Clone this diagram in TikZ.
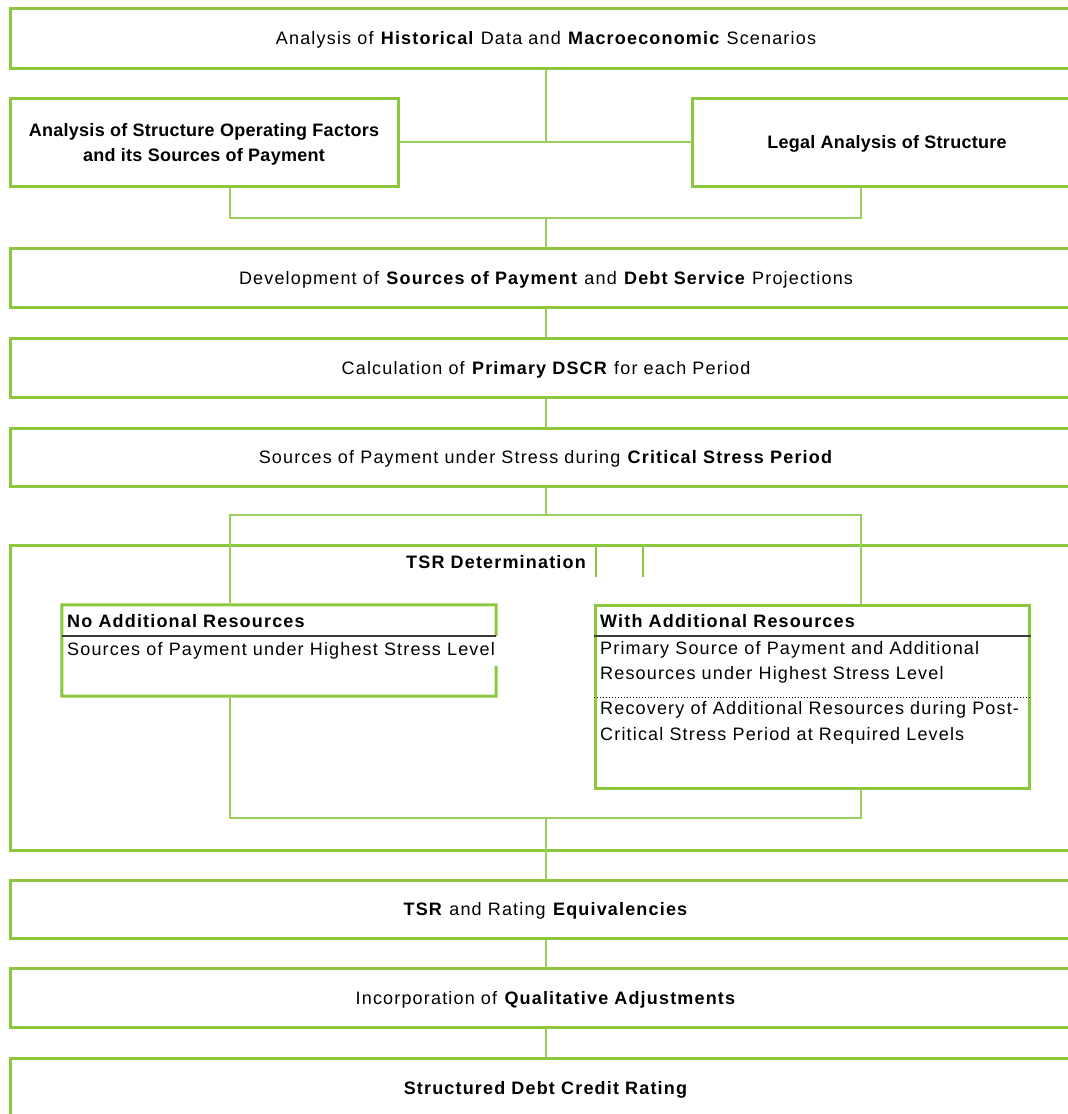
\documentclass[tikz,border=0pt]{standalone}
\usepackage{fontspec}
\setmainfont{Liberation Sans}[LetterSpace=6.5]
\newfontfamily\sidefont{Liberation Sans}[LetterSpace=1.5]
\definecolor{gbox}{RGB}{141,198,63}
\definecolor{gline}{RGB}{155,205,95}
\definecolor{hdr}{RGB}{60,60,60}
\begin{document}
\begin{tikzpicture}[x=1pt,y=-1pt,
  box/.style={draw=gbox,line width=3pt,minimum width=1072pt,minimum height=59pt,inner sep=0pt,text depth=0pt,font=\fontsize{18}{21}\selectfont,align=center},
  sidebox/.style={draw=gbox,line width=3pt,minimum height=88pt,inner sep=0pt,text depth=0pt,font=\sidefont\fontsize{18}{25}\selectfont\bfseries,align=center},
  conn/.style={draw=gline,line width=1.5pt},
  inner/.style={inner sep=0pt,anchor=west,font=\fontsize{18}{21}\selectfont},
  innerh/.style={inner sep=0pt,anchor=west,font=\fontsize{18}{21}\selectfont\bfseries}]
\useasboundingbox (0,0) rectangle (1068,1114);
\clip (0,0) rectangle (1068,1114);
% main boxes
\node[box,minimum height=60pt] (b1) at (546,38) {Analysis of \textbf{Historical} Data and \textbf{Macroeconomic} Scenarios};
\node[sidebox,minimum width=388pt] (b2) at (204,142) {Analysis of Structure Operating Factors\\and its Sources of Payment};
\node[sidebox,minimum width=390pt] (b3) at (887,142) {Legal Analysis of Structure};
\node[box] (b4) at (546,277.5) {Development of \textbf{Sources of Payment} and \textbf{Debt Service} Projections};
\node[box] (b5) at (546,367.5) {Calculation of \textbf{Primary DSCR} for each Period};
\node[box,minimum height=58pt] (b6) at (546,457) {Sources of Payment under Stress during \textbf{Critical Stress Period}};
\node[box,minimum height=305pt] (tsr) at (546,697.5) {};
\node[inner sep=0pt,font=\fontsize{18}{21}\selectfont\bfseries] (tsrt) at (496,562) {TSR Determination};
\node[box,minimum height=58pt] (b7) at (546,909) {\textbf{TSR} and Rating \textbf{Equivalencies}};
\node[box] (b8) at (546,997.5) {Incorporation of \textbf{Qualitative Adjustments}};
\node[box,minimum height=60pt] (b9) at (546,1088) {\textbf{Structured Debt Credit Rating}};
% artifact ticks
\coordinate (t1) at (596,577);
\coordinate (t2) at (643,577);
\draw[draw=gbox,line width=2.5pt] (tsr.north -| t1) -- (t1);
\draw[draw=gbox,line width=2.5pt] (tsr.north -| t2) -- (t2);
% No additional resources box
\node[minimum width=434pt,minimum height=91pt,inner sep=0pt] (na) at (279,650.5) {};
\coordinate (nag1) at (496,636);
\coordinate (nag2) at (496,666);
\draw[draw=gbox,line width=3pt] (nag1) -- (na.north east) -- (na.north west) -- (na.south west) -- (na.south east) -- (nag2);
\draw[draw=hdr,line width=1.5pt] (na.west |- nag1) -- (nag1);
\node[innerh] (nah) at (67,621) {No Additional Resources};
\node[inner] (nab) at (67,651) {Sources of Payment under Highest Stress Level};
% With additional resources box
\node[draw=gbox,line width=3pt,minimum width=434pt,minimum height=183pt,inner sep=0pt] (wa) at (812,696.5) {};
\coordinate (wah) at (812,636);
\coordinate (wad) at (812,697);
\draw[draw=hdr,line width=1.5pt] (wa.west |- wah) -- (wa.east |- wah);
\draw[line width=1pt,dotted] (wa.west |- wad) -- (wa.east |- wad);
\node[innerh] (wat) at (600,621) {With Additional Resources};
\node[inner] (wa1) at (600,650) {Primary Source of Payment and Additional};
\node[inner] (wa2) at (600,675) {Resources under Highest Stress Level};
\node[inner] (wa3) at (600,710) {Recovery of Additional Resources during Post-};
\node[inner] (wa4) at (600,736) {Critical Stress Period at Required Levels};
% connectors
\coordinate (j1) at (546,142);
\draw[conn] (b1.south) -- (j1);
\draw[conn] (b2.east) -- (b3.west);
\coordinate (k1) at (230,218);
\coordinate (k2) at (861,218);
\draw[conn] (b2.south -| k1) -- (k1) -- (k2) -- (b3.south -| k2);
\draw[conn] (b4.north |- k1) -- (b4.north);
\draw[conn] (b4.south) -- (b5.north);
\draw[conn] (b5.south) -- (b6.north);
\coordinate (m0) at (546,515);
\coordinate (m1) at (230,515);
\coordinate (m2) at (861,515);
\draw[conn] (b6.south) -- (m0);
\draw[conn] (na.north -| m1) -- (m1) -- (m2) -- (wa.north -| m2);
\coordinate (n1) at (230,818);
\coordinate (n2) at (861,818);
\draw[conn] (na.south -| n1) -- (n1) -- (n2) -- (wa.south -| n2);
\draw[conn] (b7.north |- n1) -- (b7.north);
\draw[conn] (b7.south) -- (b8.north);
\draw[conn] (b8.south) -- (b9.north);
\end{tikzpicture}
\end{document}
